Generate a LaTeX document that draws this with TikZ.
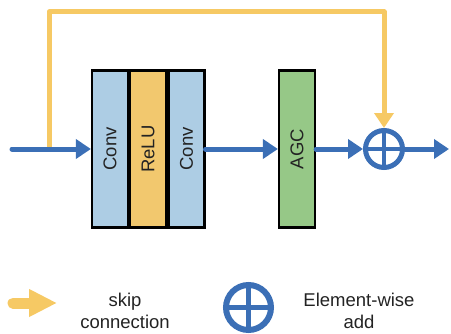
\documentclass[tikz,border=0pt]{standalone}
\usepackage{fontspec}
\setmainfont{Liberation Sans}
\usetikzlibrary{arrows.meta,positioning}

\definecolor{flowblue}{RGB}{59,111,182}
\definecolor{skipyellow}{RGB}{246,201,100}
\definecolor{convblue}{RGB}{173,205,228}
\definecolor{reluyellow}{RGB}{242,200,110}
\definecolor{agcgreen}{RGB}{150,200,135}
\definecolor{txtgray}{RGB}{35,35,35}

\def\blockw{36pt}
\def\blockh{157pt}
\def\crossw{4pt}

\begin{document}
\begin{tikzpicture}[x=1pt,y=1pt,node distance=0pt,font=\fontsize{18.5}{22}\selectfont,text=txtgray]
				\tikzstyle{block}=[draw=black,line width=2.2pt,minimum width=\blockw,minimum height=\blockh,inner sep=0pt]
				\tikzstyle{flow}=[draw=flowblue,line width=5pt,line cap=round,-{Triangle[length=15pt,width=19pt]}]
				\tikzstyle{skip}=[draw=skipyellow,line width=5pt,line cap=round,line join=round,-{Triangle[length=15pt,width=19pt]}]
				\tikzstyle{addop}=[circle,draw=flowblue,line width=5pt,minimum size=37pt,inner sep=0pt,
				    path picture={\draw[flowblue,line width=\crossw]
				        (path picture bounding box.north) -- (path picture bounding box.south)
				        (path picture bounding box.west) -- (path picture bounding box.east);}]

			    \useasboundingbox (0,0) rectangle (451,333);

			    % Residual block
			    \node[block,fill=convblue,label={[rotate=90]center:Conv}] (conv1) at (110,184) {};
			    \node[block,fill=reluyellow,right=of conv1,label={[rotate=90]center:ReLU}] (relu) {};
			    \node[block,fill=convblue,right=of relu,label={[rotate=90]center:Conv}] (conv2) {};
			    \node[block,fill=agcgreen,label={[rotate=90]center:AGC}] (agc) at (297,184) {};
			    \node[addop] (add) at (384,184) {};

			    \coordinate (in) at (12,184);
			    \coordinate (split) at (49,184);
			    \coordinate (top) at (49,321);
			    \coordinate (out) at (449,184);

			    % Skip connection, then the main flow on top
			    \draw[skip] (split) -- (top) -| (add);
			    \draw[flow] (in) -- (conv1);
			    \draw[flow] (conv2) -- (agc);
			    \draw[flow] (agc) -- (add);
			    \draw[flow] (add) -- (out);

			    % Legend
			    \coordinate (keya) at (13,30);
			    \coordinate (keyb) at (57,30);
			    \draw[skip,line width=11pt,-{Triangle[length=28pt,width=26pt]}] (keya) -- (keyb);
			    \node[align=center] (skiptxt) at (125,22) {skip\\connection};
			    \def\crossw{5pt}
			    \node[addop,line width=6pt,minimum size=45pt] (addkey) at (248.5,25.5) {};
			    \node[align=center] (addtxt) at (359,22) {Element-wise\\add};

			\end{tikzpicture}
\end{document}
